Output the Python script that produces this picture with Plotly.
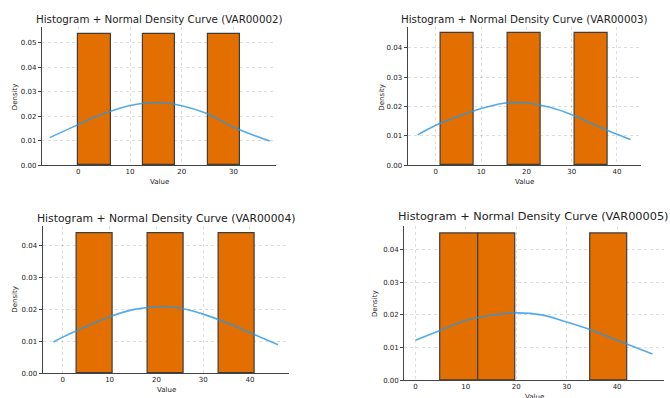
import plotly.graph_objects as go

# ---------------- data ----------------
titles = ["Histogram + Normal Density Curve (VAR00002)",
          "Histogram + Normal Density Curve (VAR00003)",
          "Histogram + Normal Density Curve (VAR00004)",
          "Histogram + Normal Density Curve (VAR00005)"]

# histogram bin edges and counts (3 observations per variable)
edges_v2 = [0, 6.25, 12.5, 18.75, 25, 31.25]
counts_v2 = [1, 0, 1, 0, 1]
edges_v3 = [1.0, 8.4, 15.8, 23.2, 30.6, 38.0]
counts_v3 = [1, 0, 1, 0, 1]
edges_v4 = [3.0, 10.6, 18.2, 25.8, 33.4, 41.0]
counts_v4 = [1, 0, 1, 0, 1]
edges_v5 = [5.0, 12.42, 19.84, 27.26, 34.68, 42.1]
counts_v5 = [1, 1, 0, 0, 1]

# normal density curves
curve_x_v2 = [-5.5, 0, 5, 10, 15, 20, 25, 30, 37]
curve_y_v2 = [0.0113, 0.0166, 0.0211, 0.0244, 0.0256, 0.0243, 0.0210, 0.0155, 0.0099]
curve_x_v3 = [-4, 0, 5, 10, 15, 18, 20, 25, 30, 35, 40, 43]
curve_y_v3 = [0.0103, 0.0136, 0.0167, 0.0193, 0.0211, 0.0214, 0.0213, 0.0198, 0.0172, 0.0138, 0.0105, 0.0087]
curve_x_v4 = [-2, 0, 5, 10, 15, 21, 25, 30, 35, 40, 46]
curve_y_v4 = [0.0098, 0.0113, 0.0146, 0.0177, 0.0199, 0.0209, 0.0204, 0.0185, 0.0158, 0.0127, 0.0089]
curve_x_v5 = [0, 5, 10, 15, 20.3, 25, 30, 35, 40, 47]
curve_y_v5 = [0.0122, 0.0153, 0.0183, 0.0199, 0.0206, 0.0200, 0.0178, 0.0153, 0.0122, 0.0080]

x_ranges = [[-7.0, 38.2], [-6.2, 45.3], [-4.3, 48.4], [-2.2, 49.3]]
y_ranges = [[0, 0.0563], [0, 0.0471], [0, 0.0460], [0, 0.0473]]
x_ticks = [[0, 10, 20, 30], [0, 10, 20, 30, 40], [0, 10, 20, 30, 40], [0, 10, 20, 30, 40]]
y_ticks = [[0, 0.01, 0.02, 0.03, 0.04, 0.05], [0, 0.01, 0.02, 0.03, 0.04],
           [0, 0.01, 0.02, 0.03, 0.04], [0, 0.01, 0.02, 0.03, 0.04]]

edges_all = [edges_v2, edges_v3, edges_v4, edges_v5]
counts_all = [counts_v2, counts_v3, counts_v4, counts_v5]
curves = [(curve_x_v2, curve_y_v2), (curve_x_v3, curve_y_v3),
          (curve_x_v4, curve_y_v4), (curve_x_v5, curve_y_v5)]

# ---------------- layout (pixel geometry) ----------------
W, H = 670, 403
REF_H = 398
# plot areas in reference pixels: (left, right, top, bottom)
areas = [(42, 276, 27, 165), (407.7, 641, 27, 164.7),
         (42.7, 289.3, 225.7, 372.3), (404.3, 664, 225, 379.3)]
title_pos = [(159, 19), (524, 19), (166, 218), (533.5, 215.7)]
title_size = [10.3, 10.3, 10.8, 11.3]
xlab_pos = [(159, 181.5), (524, 181.7), (166, 389.3), (534, 396.5)]
ylab_pos = [(15.3, 96.7), (381.7, 96.7), (15, 299), (375, 302.3)]


def px(x):
    return x / W


def py(y):
    return 1 - y / REF_H


BAR = "#E36F00"
EDGE = "#3d3d3d"
LINE = "rgba(40,150,230,0.8)"
FONT = "DejaVu Sans"
GRID = "rgba(0,0,0,0.13)"

fig = go.Figure()
annotations = []
for i in range(4):
    xa = "x" if i == 0 else f"x{i+1}"
    ya = "y" if i == 0 else f"y{i+1}"
    edges = edges_all[i]
    counts = counts_all[i]
    n = sum(counts)
    xs, ws, hs = [], [], []
    for k, c in enumerate(counts):
        if c == 0:
            continue
        w = edges[k + 1] - edges[k]
        xs.append(edges[k] + w / 2)
        ws.append(w)
        hs.append(c / (n * w))
    fig.add_trace(go.Bar(x=xs, y=hs, width=ws, marker=dict(color=BAR, line=dict(color=EDGE, width=1.2)),
                         xaxis=xa, yaxis=ya, showlegend=False))
    cx, cy = curves[i]
    fig.add_trace(go.Scatter(x=cx, y=cy, mode="lines", line=dict(color=LINE, width=1.6, shape="spline"),
                             xaxis=xa, yaxis=ya, showlegend=False))
    l, r, t, b = areas[i]
    axkey = "xaxis" if i == 0 else f"xaxis{i+1}"
    aykey = "yaxis" if i == 0 else f"yaxis{i+1}"
    fig.layout[axkey] = dict(domain=[px(l), min(px(r), 1)], range=x_ranges[i], anchor=ya,
                             tickvals=x_ticks[i], ticks="", ticklabelstandoff=-1,
                             showline=True, linecolor="#444", linewidth=1.3,
                             showgrid=True, gridcolor=GRID, griddash="dot", gridwidth=1,
                             zeroline=False, tickfont=dict(size=7, color="#222", family=FONT))
    fig.layout[aykey] = dict(domain=[py(b), py(t)], range=y_ranges[i], anchor=xa,
                             tickvals=y_ticks[i], tickformat=".2f", ticks="outside", ticklen=3, tickcolor="#444",
                             showline=True, linecolor="#444", linewidth=1.3,
                             showgrid=True, gridcolor=GRID, griddash="dot", gridwidth=1,
                             zeroline=False, tickfont=dict(size=7, color="#222", family=FONT))
    tx, ty = title_pos[i]
    annotations.append(dict(text=titles[i], x=px(tx), y=py(ty), xref="paper", yref="paper",
                            showarrow=False, xanchor="center", yanchor="middle",
                            font=dict(size=title_size[i], color="#222", family=FONT)))
    vx, vy = xlab_pos[i]
    annotations.append(dict(text="Value", x=px(vx), y=py(vy), xref="paper", yref="paper",
                            showarrow=False, xanchor="center", yanchor="middle",
                            font=dict(size=7, color="#222", family=FONT)))
    dx, dy = ylab_pos[i]
    annotations.append(dict(text="Density", x=px(dx), y=py(dy), xref="paper", yref="paper",
                            showarrow=False, xanchor="center", yanchor="middle", textangle=-90,
                            font=dict(size=7, color="#222", family=FONT)))

fig.update_layout(width=W, height=H, margin=dict(l=0, r=0, t=0, b=0),
                  paper_bgcolor="white", plot_bgcolor="white", bargap=0,
                  annotations=annotations, barmode="overlay")
fig.write_html("out.html", config={"displayModeBar": False},
               post_script=("document.body.style.margin='0';"
                            "document.documentElement.style.overflow='hidden';"
                            "document.body.style.overflow='hidden';"
                            "var g=document.getElementById('{plot_id}');"
                            "g.style.position='fixed';g.style.top='0';g.style.left='0';"))
